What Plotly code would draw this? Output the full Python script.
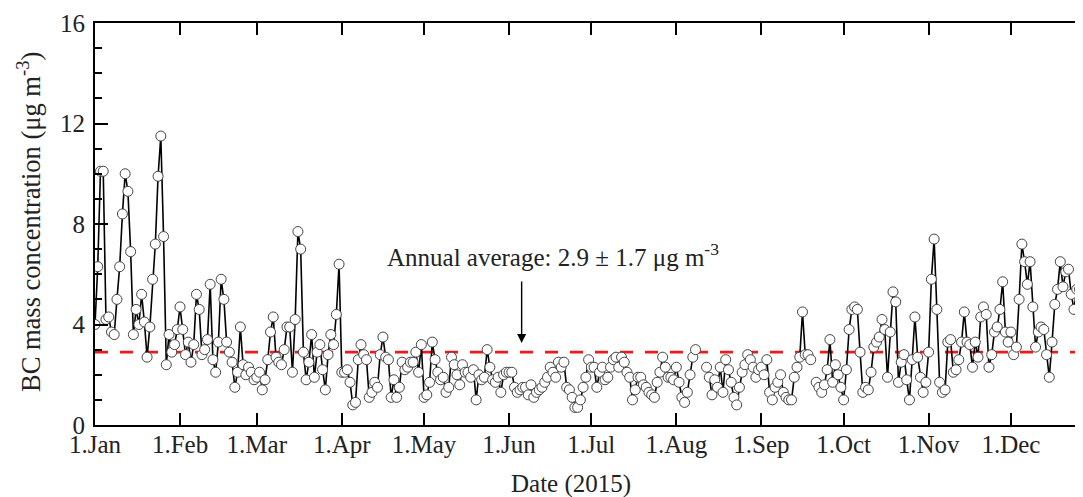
import pandas as pd
import plotly.graph_objects as go

# daily BC mass concentration (ug m-3), 2015, read month by month (None = no data)
bc_jan = [4.0, 6.3, 10.1, 10.1, 4.2, 4.3, 3.7, 3.6, 5.0, 6.3, 8.4, 10.0, 9.3, 6.9, 3.6, 4.6,
          4.0, 5.2, 4.1, 2.7, 3.9, 5.8, 7.2, 9.9, 11.5, 7.5, 2.4, 3.6, 2.9, 3.2, 3.8]
bc_feb = [4.7, 3.8, 2.8, 3.3, 2.5, 3.2, 5.2, 4.6, 2.8, 3.0, 3.4, 5.6, 2.6, 2.1, 3.3, 5.8,
          5.0, 3.3, 2.9, 2.5, 1.5, 2.1, 3.9, 2.4, 2.0, 2.3, 2.1, 1.8]
bc_mar = [1.9, 2.1, 1.4, 1.8, 2.6, 3.7, 4.3, 2.7, 2.5, 2.4, 3.0, 3.9, 3.9, 2.1, 4.2, 7.7,
          7.0, 2.9, 1.8, 2.5, 3.6, 1.9, 2.9, 3.2, 2.2, 1.4, 2.8, 3.6, 3.2, 4.4, 6.4]
bc_apr = [2.1, 2.1, 2.2, 1.7, 0.8, 0.9, 2.6, 3.2, 2.8, 2.6, 1.1, 1.3, 1.7, 1.5, 2.8, 3.5,
          2.7, 2.6, 1.1, 1.8, 1.1, 1.5, 2.5, 2.2, 2.3, 2.5, 2.5, 2.9, 2.1, 3.2]
bc_may = [1.1, 1.2, 1.7, 3.3, 2.6, 2.1, 1.8, 1.9, 1.3, 1.5, 2.7, 2.4, 2.0, 1.6, 2.4, 2.1,
          2.1, 1.9, 2.2, 1.0, 2.0, 1.8, 1.9, 3.0, 2.3, 1.8, 1.7, 1.9, 1.3, 2.0, 2.1]
bc_jun = [2.1, 2.1, 1.5, 1.3, 1.4, 1.5, 1.5, 1.2, 1.6, 1.1, 1.3, 1.4, 1.5, 1.7, 1.9, 2.3,
          2.1, 1.9, 2.5, 2.3, 2.5, 1.5, 1.4, 1.1, 0.7, 0.7, 1.0, 1.5, 1.9, 2.6]
bc_jul = [2.3, 2.3, 1.5, 2.1, 2.3, 1.8, 1.9, 2.3, 2.6, 2.7, 2.3, 2.7, 2.5, 2.1, 1.9, 1.0,
          1.4, 1.9, 1.9, 1.6, 1.5, 1.3, 1.2, 1.1, 1.7, 2.1, 2.7, 2.3, 1.9, 1.9, 1.8]
bc_aug = [2.3, 1.7, 1.1, 0.9, 1.3, 2.0, 2.7, 3.0, None, None, None, 2.3, 1.9, 1.2, 1.8, 1.5,
          2.3, 1.3, 2.6, 2.2, 1.7, 1.1, 0.8, 1.5, 2.1, 2.4, 2.8, 2.6, 2.3, 1.9, 2.2]
bc_sep = [2.3, 2.0, 2.6, 1.3, 1.0, 1.5, 1.7, 2.0, 1.3, 1.1, 1.0, 1.0, 1.9, 2.3, 2.7, 4.5,
          2.8, 2.8, 2.6, None, 1.7, 1.5, 1.3, 1.6, 2.2, 3.4, 1.7, 2.4, 2.0, 1.5]
bc_oct = [1.0, 2.2, 3.8, 4.6, 4.7, 4.6, 2.9, 1.3, 1.5, 1.4, 2.1, 3.1, 3.3, 3.5, 4.2, 3.8,
          1.9, 3.7, 5.3, 4.9, 1.7, 2.5, 2.8, 1.8, 1.0, 2.6, 4.3, 2.7, 1.9, 1.3, 1.7]
bc_nov = [2.9, 5.8, 7.4, 4.6, 1.7, 1.3, 1.4, 3.3, 3.4, 2.1, 2.2, 2.6, 3.3, 4.5, 3.3, 3.2,
          2.3, 3.3, 2.7, 4.3, 4.7, 4.4, 2.3, 2.8, 3.7, 3.9, 4.6, 5.7, 3.7, 3.3]
bc_dec = [3.7, 2.8, 3.1, 5.0, 7.2, 6.5, 5.6, 6.5, 4.7, 3.1, 3.7, 3.9, 3.8, 2.8, 1.9, 3.3,
          4.8, 5.4, 6.5, 5.5, 6.1, 6.2, 5.2, 4.6, 5.4, 5.4, 5.3]

bc = (bc_jan + bc_feb + bc_mar + bc_apr + bc_may + bc_jun +
      bc_jul + bc_aug + bc_sep + bc_oct + bc_nov + bc_dec)
dates = pd.date_range("2015-01-01", periods=len(bc), freq="D")

annual_avg = 2.9
avg_dates = ["2015-01-01", "2015-12-31"]

month_ticks = ["2015-01-01", "2015-02-01", "2015-03-01", "2015-04-01", "2015-05-01", "2015-06-01",
               "2015-07-01", "2015-08-01", "2015-09-01", "2015-10-01", "2015-11-01", "2015-12-01"]
month_labels = ["1.Jan", "1.Feb", "1.Mar", "1.Apr", "1.May", "1.Jun",
                "1.Jul", "1.Aug", "1.Sep", "1.Oct", "1.Nov", "1.Dec"]
y_ticks = [0, 4, 8, 12, 16]

arrow_date = "2015-06-05 14:00"
arrow_tip, arrow_tail = 3.26, 5.77

FONT = "Liberation Serif, Times New Roman, serif"

fig = go.Figure()

# annual average (dashed red)
fig.add_trace(go.Scatter(x=avg_dates, y=[annual_avg, annual_avg], mode="lines",
                         line=dict(color="#f01818", width=2.7, dash="13px,12px"),
                         hoverinfo="skip", showlegend=False))

# daily series
fig.add_trace(go.Scatter(x=dates, y=bc, mode="lines+markers",
                         line=dict(color="black", width=1.6),
                         marker=dict(size=10, color="white", line=dict(color="#444", width=1)),
                         connectgaps=False, showlegend=False))

# empty trace so the right-hand tick axis is drawn
fig.add_trace(go.Scatter(x=[dates[0]], y=[None], yaxis="y2", mode="lines",
                         showlegend=False, hoverinfo="skip"))

# page body has an 8px margin, so the figure is sized to end at the window edge
fig.update_layout(
    width=1075, height=489,
    margin=dict(l=87, r=0, t=15, b=72),
    plot_bgcolor="white", paper_bgcolor="white",
    font=dict(family=FONT, color="#222", size=25),
    xaxis=dict(type="date", range=["2015-01-01", "2015-12-27 07:00"],
               tickvals=month_ticks, ticktext=month_labels,
               ticks="inside", ticklen=12, tickwidth=1.5, tickcolor="black",
               showline=True, linewidth=2, linecolor="black", mirror="ticks",
               showgrid=False, zeroline=False, ticklabelstandoff=-4,
               tickfont=dict(size=25)),
    yaxis=dict(range=[0, 16], tickvals=y_ticks,
               ticks="inside", ticklen=13, tickwidth=1.5, tickcolor="black",
               minor=dict(dtick=1, ticks="inside", ticklen=7, tickwidth=1.5, tickcolor="black"),
               showline=True, linewidth=2, linecolor="black",
               showgrid=False, zeroline=False, ticklabelstandoff=3,
               tickfont=dict(size=25)),
    yaxis2=dict(range=[0, 16], tickvals=y_ticks, overlaying="y", side="right", anchor="x",
                ticks="inside", ticklen=5, tickwidth=1.5, tickcolor="black",
                showticklabels=False, showline=False, showgrid=False, zeroline=False),
    showlegend=False,
)

fig.add_annotation(x=0.2935, y=0.424, xref="paper", yref="paper", xanchor="left", yanchor="middle",
                   text="Annual average: 2.9 ± 1.7 μg m<sup>-3</sup>", showarrow=False,
                   font=dict(size=25, family=FONT, color="#222"))
fig.add_annotation(x=arrow_date, y=arrow_tip, ax=arrow_date, ay=arrow_tail,
                   xref="x", yref="y", axref="x", ayref="y", text="",
                   showarrow=True, arrowhead=2, arrowsize=1.3, arrowwidth=1.4, arrowcolor="black")
fig.add_annotation(x=0.482, y=-0.148, xref="paper", yref="paper", xanchor="center", yanchor="middle",
                   text="Date (2015)", showarrow=False, font=dict(size=25, family=FONT, color="#222"))
fig.add_annotation(x=-0.0668, y=0.505, xref="paper", yref="paper", xanchor="center", yanchor="middle",
                   text="BC mass concentration (μg m<sup>-3</sup>)", textangle=-90, showarrow=False,
                   font=dict(size=26.5, family=FONT, color="#222"))

fig.write_html("out.html")
